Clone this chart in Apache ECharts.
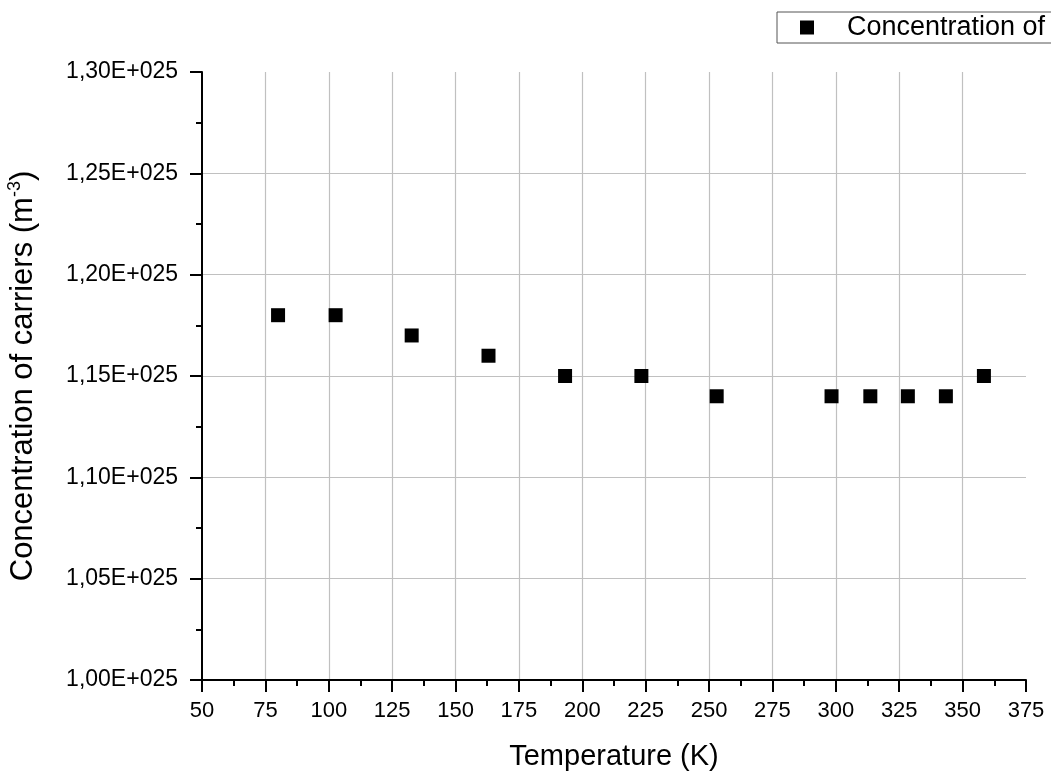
<!DOCTYPE html>
<html>
<head>
<meta charset="utf-8">
<script src="https://cdn.jsdelivr.net/npm/echarts@6/dist/echarts.min.js"></script>
<style>
  html, body { margin: 0; padding: 0; background: #fff; }
  #chart { width: 1051px; height: 773px; }
</style>
</head>
<body>
<div id="chart"></div>
<script>
// temperature in K
var temperature = [80, 102.7, 132.7, 163, 193.2, 223.3, 253, 298.3, 313.6, 328.4, 343.4, 358.4];
// carrier concentration, in units of 1E+025 m^-3
var concentration = [1.18, 1.18, 1.17, 1.16, 1.15, 1.15, 1.14, 1.14, 1.14, 1.14, 1.14, 1.15];
var seriesName = 'Concentration of carriers';

(function () {
    var myChart = echarts.init(document.getElementById('chart'));
    var font = '"Liberation Sans", Arial, sans-serif';

    var points = temperature.map(function (t, i) {
        return [t, concentration[i]];
    });

    option = {
        animation: false,
        textStyle: { fontFamily: font },
        legend: {
            left: 777,
            top: 12,
            padding: [2, 10, 2, 23],
            itemWidth: 14,
            itemHeight: 14,
            borderColor: '#555',
            borderWidth: 1,
            textStyle: {
                fontFamily: font,
                fontSize: 27,
                color: '#000',
                padding: [0, 0, 0, 28]
            },
            data: [seriesName]
        },
        grid: {
            left: 202,
            right: 25,
            top: 72,
            bottom: 93,
            containLabel: false,
            outerBoundsMode: 'none'
        },
        xAxis: {
            type: 'value',
            min: 50,
            max: 375,
            interval: 25,
            name: 'Temperature (K)',
            nameLocation: 'middle',
            nameGap: 62,
            nameTextStyle: { fontSize: 29, color: '#000', fontFamily: font },
            axisLine: { onZero: false, lineStyle: { color: '#000', width: 2 } },
            axisTick: { inside: false, length: 12, lineStyle: { color: '#000', width: 2 } },
            minorTick: { show: true, splitNumber: 2, length: 6, lineStyle: { color: '#000', width: 2 } },
            axisLabel: { fontSize: 22, color: '#000', margin: 20, fontFamily: font },
            splitLine: { show: true, showMinLine: false, showMaxLine: false, lineStyle: { color: '#c0c0c0', width: 1.2 } }
        },
        yAxis: {
            type: 'value',
            min: 1.0,
            max: 1.3,
            interval: 0.05,
            name: '{n|Concentration of carriers (m}{s|-3}{n|)}',
            nameLocation: 'middle',
            nameGap: 162,
            nameTextStyle: {
                color: '#000',
                fontFamily: font,
                rich: {
                    n: { fontSize: 31, color: '#000', fontFamily: font },
                    s: { fontSize: 18, color: '#000', fontFamily: font, verticalAlign: 'top', padding: [0, 0, 16, 0] }
                }
            },
            axisLine: { onZero: false, lineStyle: { color: '#000', width: 2 } },
            axisTick: { inside: false, length: 12, lineStyle: { color: '#000', width: 2 } },
            minorTick: { show: true, splitNumber: 2, length: 6, lineStyle: { color: '#000', width: 2 } },
            axisLabel: {
                fontSize: 23,
                color: '#000',
                margin: 24,
                fontFamily: font,
                formatter: function (v) {
                    return v.toFixed(2).replace('.', ',') + 'E+025';
                }
            },
            splitLine: { show: true, showMinLine: false, showMaxLine: false, lineStyle: { color: '#c0c0c0', width: 1.2 } }
        },
        series: [
            {
                name: seriesName,
                type: 'scatter',
                symbol: 'rect',
                symbolSize: 14,
                itemStyle: { color: '#000', opacity: 1 },
                data: points
            }
        ]
    };

    myChart.setOption(option);
    window.addEventListener('resize', function () {
        myChart.resize();
    });
})();
</script>
</body>
</html>
